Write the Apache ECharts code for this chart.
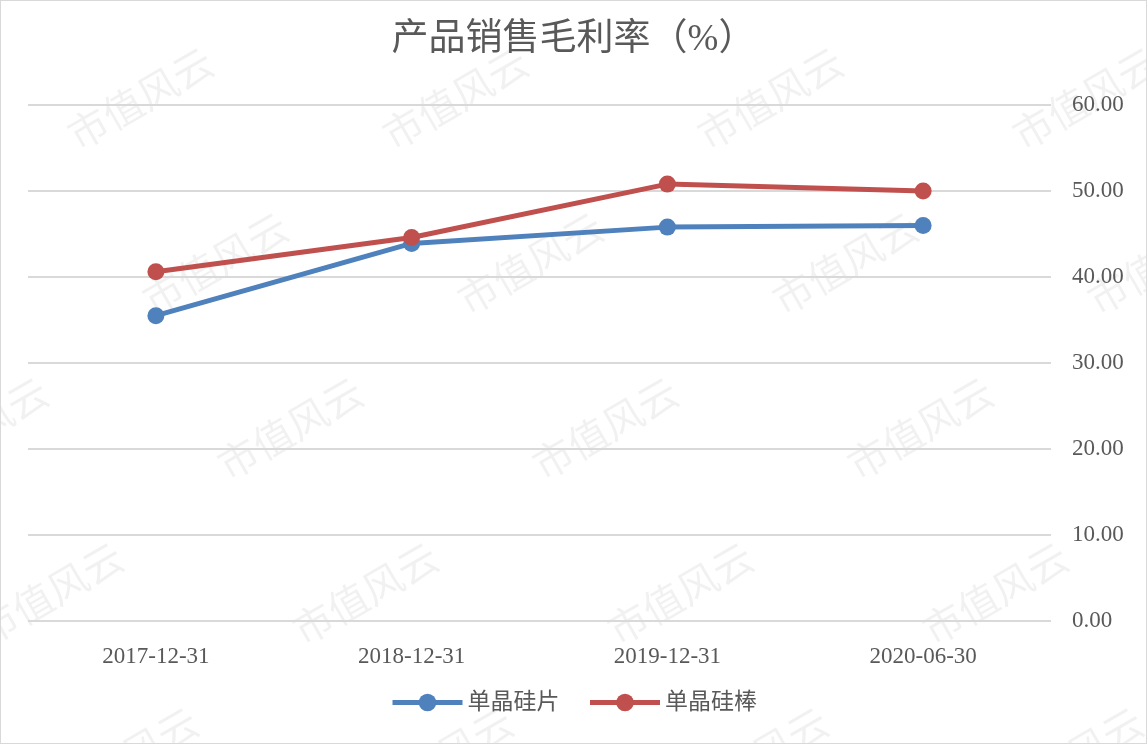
<!DOCTYPE html>
<html>
<head>
<meta charset="utf-8">
<script src="https://cdn.jsdelivr.net/npm/echarts@6/dist/echarts.min.js"></script>
<style>
  html, body { margin: 0; padding: 0; background: #fff; }
  #main { width: 1147px; height: 744px; box-sizing: border-box; border: 1px solid #d9d9d9; }
</style>
</head>
<body>
<div id="main"></div>
<script>
var categories = ['2017-12-31', '2018-12-31', '2019-12-31', '2020-06-30'];
var waferValues = [35.5, 43.9, 45.8, 46.0];
var rodValues = [40.6, 44.6, 50.8, 50.0];
var seriesNames = ['单晶硅片', '单晶硅棒'];

var serif = '"Liberation Serif", "Times New Roman", "Noto Sans CJK SC", serif';
var textColor = '#595959';

// watermark
var marks = [];
for (var r = -1; r < 6; r++) {
  for (var c = -1; c < 5; c++) {
    marks.push({
      type: 'text',
      x: c * 315 + r * 75 + 60,
      y: r * 165 + 120,
      rotation: Math.PI / 6,
      silent: true,
      z: -1,
      style: {
        text: '市值风云',
        font: '40px "Noto Sans CJK SC"',
        fill: 'rgba(0,0,0,0.055)'
      }
    });
  }
}

var chart = echarts.init(document.getElementById('main'));
chart.setOption({
  animation: false,
  backgroundColor: '#fff',
  graphic: marks,
  title: {
    text: '产品销售毛利率（%）',
    left: 'center',
    top: 16,
    textStyle: { fontFamily: serif, fontSize: 37, fontWeight: 'normal', color: textColor }
  },
  legend: {
    data: seriesNames,
    bottom: 24,
    left: 'center',
    itemWidth: 70,
    itemHeight: 22,
    itemGap: 28,
    lineStyle: { width: 5 },
    textStyle: { fontFamily: serif, fontSize: 23, color: textColor }
  },
  grid: { left: 27, right: 95, top: 104, bottom: 122, containLabel: false },
  xAxis: {
    type: 'category',
    data: categories,
    axisLine: { show: false },
    axisTick: { show: false },
    axisLabel: { fontFamily: serif, fontSize: 23, color: textColor, margin: 24 }
  },
  yAxis: {
    type: 'value',
    position: 'right',
    min: 0,
    max: 60,
    interval: 10,
    axisLine: { show: false },
    axisTick: { show: false },
    splitLine: { lineStyle: { color: '#d9d9d9', width: 2 } },
    axisLabel: {
      fontFamily: serif, fontSize: 23, color: textColor, margin: 21,
      formatter: function (v) { return v.toFixed(2); }
    }
  },
  series: [
    {
      name: seriesNames[0],
      type: 'line',
      data: waferValues,
      symbol: 'circle',
      symbolSize: 17,
      color: '#4f81bd',
      lineStyle: { width: 5 }
    },
    {
      name: seriesNames[1],
      type: 'line',
      data: rodValues,
      symbol: 'circle',
      symbolSize: 17,
      color: '#c0504d',
      lineStyle: { width: 5 }
    }
  ]
});
</script>
</body>
</html>
